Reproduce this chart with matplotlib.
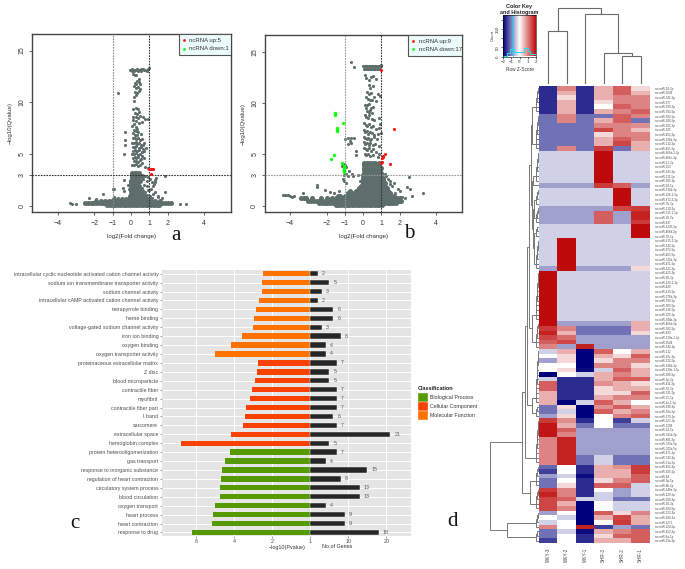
import matplotlib
matplotlib.use("Agg")
import matplotlib.pyplot as plt
import numpy as np
from matplotlib.colors import LinearSegmentedColormap
from matplotlib.patches import Rectangle

W, H = 685, 569
plt.rcParams["font.family"] = ["Liberation Sans", "DejaVu Sans"]

# ---- panel a, volcano: loose points
a_x = [-0.05,0.0,0.04,0.08,0.12,0.17,0.22,0.27,0.31,0.36,0.41,0.46,0.52,0.57,0.63,0.7,0.78,0.86,0.93,0.98,
       -0.7,0.2,0.3,0.12,0.35,0.42,0.45,0.48,0.2,0.3,0.15,0.25,0.4,0.5,0.45,0.22,0.32,0.18,0.15,0.28,
       0.12,0.3,0.4,0.45,0.2,0.35,0.5,0.1,0.25,0.4,0.65,0.95,0.75,0.1,0.3,0.6,0.45,0.18,0.08,0.27,0.35,0.15,0.25,0.1,0.4,0.55,-0.3,0.2,0.35,
       0.1,0.2,0.3,0.4,0.5,0.62,0.72,0.05,0.15,0.25,0.35,0.45,0.55,0.68,0.1,0.2,0.3,0.42,0.52,0.65,0.8,0.12,0.22,0.33,0.44,0.58,0.7,
       0.08,0.18,0.28,0.38,0.5,0.62,0.1,0.2,0.3,0.4,0.55,0.72,0.15,0.25,0.36,0.48,0.6,0.06,0.16,0.27,0.38,0.5,0.75,0.95,
       -0.3,-0.3,-0.4,1.85,1.35,1.33,1.3,1.28,1.2,1.12,1.02,0.95,0.85,0.75,0.65,0.55,0.48,0.9,0.7,0.6,0.95,1.1,1.3,1.2,
       -0.4,-1.0,-0.95,-0.45,-0.4,-0.1,-0.15,-0.05,1.0,1.5,1.85,1.7,1.45,-1.5,-0.9,-0.7,-2.3,-1.9,
       -3.3,-3.2,-3.0,2.7,3.0,0.75,0.6,0.9,0.5,0.8,1.05,0.65,1.15,0.55,0.45,0.7]
a_y = [13.1,13.15,13.05,13.2,13.1,13.05,13.15,13.1,13.2,13.05,13.15,13.1,13.2,13.05,13.2,13.1,13.15,13.05,13.2,13.3,
       10.9,12.6,12.6,12.7,12.1,12.2,12.0,11.8,11.9,11.8,11.6,11.4,11.5,11.3,11.1,11.0,10.9,10.5,10.1,10.7,
       9.3,9.4,9.3,9.1,9.0,8.9,8.7,8.6,8.6,8.5,8.6,8.4,8.4,8.3,8.2,8.1,8.0,7.9,7.7,7.6,7.4,7.3,7.2,7.0,7.1,6.9,7.1,6.8,6.8,
       6.5,6.5,6.4,6.5,6.3,6.4,6.1,6.1,6.1,6.2,6.0,6.1,5.9,5.9,5.7,5.7,5.8,5.6,5.7,5.5,5.6,5.3,5.4,5.3,5.4,5.2,5.3,
       5.0,5.0,5.1,4.9,5.0,4.8,4.6,4.7,4.6,4.7,4.5,4.6,4.3,4.3,4.2,4.4,4.1,3.9,3.9,4.0,3.8,3.9,3.7,3.6,
       6.3,5.9,5.0,2.9,2.7,2.5,2.3,2.1,1.9,2.3,2.6,2.8,2.4,2.9,2.6,2.9,2.5,1.9,2.0,1.7,1.5,1.6,1.3,1.1,
       2.5,1.6,1.6,1.7,1.4,1.6,2.0,2.4,1.5,0.9,1.3,0.7,0.8,1.1,0.8,0.7,0.7,0.6,
       0.25,0.2,0.15,0.2,0.2,1.3,1.2,1.0,1.5,0.7,0.9,0.9,0.7,1.1,1.3,0.6]
a_up_x = [1.0,1.08,1.15,1.2,1.1]
a_up_y = [3.5,3.5,3.5,3.5,3.05]

# panel a: solid part, one y level and the x values on it
a_levels = [0.08,0.22,0.4,0.65,0.9,1.15,1.4,1.65,1.9,2.15,2.4,2.65,2.9,3.15]
a_level_x = [
    [-1.3,-1.15,-1.0,-0.85,-0.7,-0.55,-0.4,-0.25,-0.1,0.05,0.2,0.35,0.5,0.65,0.8,0.95,1.1,1.25,1.4,1.55],
    [-2.5,-2.35,-2.2,-2.05,-1.9,-1.75,-1.6,-1.45,-1.3,-1.15,-1.0,-0.85,-0.7,-0.55,-0.4,-0.25,-0.1,0.05,0.2,0.35,0.5,0.65,0.8,0.95,1.1,1.25,1.4,1.55,1.7,1.85,2.0,2.18],
    [-1.9,-1.65,-1.4,-1.2,-1.05,-0.9,-0.75,-0.6,-0.45,-0.3,-0.15,0.0,0.12,0.24,0.36,0.5,0.65,0.8,0.95,1.1,1.3,1.6],
    [-0.9,-0.5,-0.25,-0.1,0.0,0.1,0.2,0.3,0.4,0.52,0.68,0.85,1.02],
    [-0.05,0.02,0.12,0.22,0.32,0.42,0.55,0.75],
    [0.0,0.1,0.2,0.3,0.4,0.58],
    [0.0,0.1,0.2,0.3,0.38,0.6],
    [0.0,0.1,0.2,0.3,0.4],
    [0.02,0.12,0.22,0.32,0.45],
    [0.02,0.12,0.22,0.32],
    [0.02,0.12,0.22,0.3,0.48],
    [0.04,0.14,0.24,0.36],
    [0.06,0.16,0.26,0.4,0.6],
    [0.08,0.2,0.3,0.42],
]

# ---- panel b, volcano: loose points
b_x = [-0.65,-0.5,0.0,0.08,0.16,0.24,0.32,0.4,0.48,0.56,0.64,0.72,0.8,0.88,0.96,0.04,0.12,0.2,0.28,0.36,0.44,0.52,0.6,0.68,0.76,0.84,0.92,0.98,
       0.1,0.18,0.3,0.42,0.55,0.7,0.3,0.4,0.55,0.2,0.35,0.45,0.6,0.8,0.95,0.15,0.25,0.38,0.5,0.7,0.2,0.3,0.42,0.55,
       0.08,0.14,0.22,0.3,0.38,0.5,0.1,0.18,0.26,0.34,0.48,0.62,0.85,0.95,0.06,0.14,0.22,0.3,0.42,0.55,0.7,0.88,
       0.05,0.12,0.2,0.28,0.36,0.48,0.6,0.8,0.98,0.05,0.12,0.2,0.28,0.36,0.46,0.6,0.75,0.05,0.12,0.2,0.3,0.4,0.52,0.68,0.9,
       0.06,0.14,0.24,0.34,0.44,0.56,0.72,0.85,0.08,0.18,0.28,0.4,0.55,0.8,
       -1.0,-0.85,-0.7,-0.65,-0.5,-0.65,-0.8,-0.4,-0.4,-1.0,-1.05,-0.95,-0.75,-0.6,-0.85,-1.1,-1.05,-0.95,-1.15,-0.55,-0.3,-0.15,
       -2.5,-2.5,-2.1,-1.8,-1.6,-1.3,-3.3,-4.4,-4.3,-4.2,-4.1,-4.0,-3.9,-3.8,-1.05,-0.95,
       1.25,1.35,1.2,1.45,1.5,1.6,1.7,1.9,2.0,2.4,2.5,2.55,2.7,3.3,2.15,2.3,1.75]
b_y = [14.0,13.5,13.6,13.6,13.6,13.6,13.6,13.6,13.6,13.6,13.6,13.6,13.6,13.6,13.6,13.3,13.3,13.3,13.3,13.3,13.3,13.3,13.3,13.3,13.3,13.3,13.3,13.7,
       12.7,12.4,12.2,12.5,12.6,12.3,11.8,11.5,11.7,11.1,10.9,11.0,10.6,10.9,10.7,10.6,10.4,10.3,10.3,10.2,9.8,9.9,9.5,9.6,
       9.8,9.5,9.2,9.1,9.3,9.0,8.8,8.6,8.5,8.8,8.4,8.3,8.5,8.0,8.1,7.9,7.8,8.0,7.7,7.8,7.5,7.6,
       7.4,7.2,7.3,7.0,7.2,7.1,6.9,7.0,7.1,6.7,6.6,6.5,6.6,6.4,6.5,6.7,6.5,6.2,6.0,6.1,5.9,6.1,5.9,6.0,5.8,
       5.6,5.5,5.4,5.6,5.3,5.5,5.2,5.0,5.0,4.9,5.0,4.8,4.9,4.7,
       6.5,6.6,6.3,6.55,6.55,6.1,6.0,5.3,4.9,4.0,3.0,3.1,3.4,3.1,2.9,2.6,2.4,2.2,3.9,2.9,3.0,2.4,
       2.0,1.8,1.5,1.3,1.2,1.4,1.2,1.05,1.05,1.0,1.0,0.95,0.85,0.9,4.1,3.8,
       2.9,2.6,3.1,2.4,2.1,1.9,2.2,1.6,1.4,1.8,2.8,1.6,0.9,1.2,0.8,0.7,1.2]
b_up_x = [1.0,1.7,1.2,1.07,1.05,1.1,1.0,1.5,1.05]
b_up_y = [13.2,7.45,5.05,4.7,4.6,4.85,4.2,4.1,4.25]
b_down_x = [-1.55,-1.55,-1.53,-1.1,-1.45,-1.45,-1.44,-1.6,-1.75,-1.15,-1.05,-1.05,-1.03,-1.03,-1.02,-1.04,-1.06]
b_down_y = [9.05,8.95,8.85,8.1,7.55,7.4,7.3,4.95,4.5,4.2,3.9,3.75,3.45,3.35,3.25,3.6,3.5]

b_levels = [0.08,0.28,0.5,0.72,0.95,1.2,1.45,1.7,1.95,2.2,2.45,2.7,2.95,3.2,3.45,3.7,3.95,4.2]
b_level_x = [
    [-1.5,-1.35,-1.2,-1.05,-0.9,-0.75,-0.6,-0.45,-0.3,-0.15,0.0,0.15,0.3,0.45,0.6,0.75,0.9,1.05],
    [-2.4,-2.25,-2.1,-1.95,-1.8,-1.65,-1.5,-1.35,-1.2,-1.05,-0.9,-0.75,-0.6,-0.45,-0.3,-0.15,0.0,0.15,0.3,0.45,0.6,0.75,0.9,1.05,1.2,1.35,1.5,1.65,1.8],
    [-3.0,-2.85,-2.7,-2.55,-2.4,-2.25,-2.1,-1.95,-1.8,-1.65,-1.5,-1.35,-1.2,-1.05,-0.9,-0.75,-0.6,-0.45,-0.3,-0.15,0.0,0.15,0.3,0.45,0.6,0.75,0.9,1.05,1.2,1.35,1.5,1.65,1.8,1.95,2.1],
    [-3.4,-3.25,-3.1,-2.8,-2.3,-2.0,-1.7,-1.5,-1.3,-1.15,-1.0,-0.85,-0.7,-0.55,-0.4,-0.25,-0.1,0.05,0.2,0.35,0.5,0.65,0.8,0.95,1.1,1.25,1.4,1.55,1.7,1.85,2.0],
    [-1.4,-1.25,-1.0,-0.85,-0.7,-0.55,-0.4,-0.25,-0.1,0.05,0.2,0.35,0.5,0.65,0.8,0.95,1.1,1.25,1.4,1.55,1.7],
    [-0.8,-0.6,-0.45,-0.3,-0.15,0.0,0.13,0.26,0.39,0.52,0.65,0.78,0.91,1.04,1.17,1.3,1.45],
    [-0.7,-0.4,-0.25,-0.1,0.03,0.16,0.29,0.42,0.55,0.68,0.81,0.94,1.07,1.2,1.35],
    [-0.25,-0.1,0.03,0.16,0.29,0.42,0.55,0.68,0.81,0.94,1.07,1.2,1.3],
    [-0.1,0.03,0.16,0.29,0.42,0.55,0.68,0.81,0.94,1.07,1.2],
    [-0.02,0.1,0.22,0.34,0.46,0.58,0.7,0.82,0.94,1.06,1.18],
    [0.0,0.12,0.24,0.36,0.48,0.6,0.72,0.84,0.96,1.08],
    [0.02,0.14,0.26,0.38,0.5,0.62,0.74,0.86,0.98,1.1],
    [0.02,0.14,0.26,0.38,0.5,0.62,0.74,0.86,0.98],
    [0.03,0.15,0.27,0.39,0.51,0.63,0.75,0.87,0.99],
    [0.04,0.16,0.28,0.4,0.52,0.64,0.78,0.92],
    [0.04,0.16,0.28,0.4,0.52,0.66,0.8,0.96],
    [0.05,0.17,0.3,0.44,0.58,0.72,0.9],
    [0.06,0.2,0.34,0.5,0.66,0.85],
]

# ---- panel c, enrichment bars
terms = ["intracellular cyclic nucleotide activated cation channel activity",
         "sodium ion transmembrane transporter activity", "sodium channel activity",
         "intracellular cAMP activated cation channel activity", "tetrapyrrole binding", "heme binding",
         "voltage-gated sodium channel activity", "iron ion binding", "oxygen binding",
         "oxygen transporter activity", "proteinaceous extracellular matrix", "Z disc", "blood microparticle",
         "contractile fiber", "myofibril", "contractile fiber part", "I band", "sarcomere", "extracellular space",
         "hemoglobin complex", "protein heterooligomerization", "gas transport", "response to inorganic substance",
         "regulation of heart contraction", "circulatory system process", "blood circulation", "oxygen transport",
         "heart process", "heart contraction", "response to drug"]
log_p = [2.47,2.54,2.56,2.68,2.86,2.98,3.04,3.6,4.18,5.0,2.74,2.82,2.91,3.07,3.19,3.4,3.44,3.53,4.16,6.82,
         4.21,4.49,4.65,4.7,4.75,4.77,5.0,5.12,5.16,6.24]
gene_counts = [2,5,3,2,6,6,3,8,4,4,7,5,5,7,7,7,6,7,21,5,7,4,15,8,13,13,4,9,9,18]
term_class = ["MF"]*10 + ["CC"]*10 + ["BP"]*10
class_names = ["Biological Process", "Cellular Component", "Molecular Function"]
class_colors = {"BP": "#559A00", "CC": "#F94100", "MF": "#FF7200"}

# ---- panel d, heatmap
columns = ["WKY-3", "WKY-2", "WKY-1", "SHR-3", "SHR-2", "SHR-1"]
z_rows = [
    [-1.65,1.0,-1.65,0.65,1.3,0.3],[-1.65,0.65,-1.65,0.65,1.3,0.6],[-1.65,0.3,-1.65,0.65,1.0,1.0],
    [-1.65,0.65,-1.65,0.3,1.0,1.0],[-1.65,0.65,-1.65,0.0,1.3,1.0],[-1.65,0.65,-1.65,0.65,1.0,1.3],
    [-1.1,1.0,-1.1,-1.1,1.3,1.0],[-1.1,1.0,-1.1,0.65,1.3,-1.1],[-1.1,-1.1,-1.1,1.0,1.0,0.9],
    [-1.1,-1.1,-1.1,1.5,1.0,0.5],[-1.1,-1.1,-1.1,0.3,1.0,1.0],[-1.1,-1.1,-1.1,0.65,1.3,1.0],
    [-1.1,-1.1,-1.1,0.65,1.5,0.65],[-1.1,1.0,-1.1,1.6,-1.1,0.65],
    [-0.37,-0.37,-0.37,2,-0.37,-0.37],[-0.37,-0.37,-0.37,2,-0.37,-0.37],[-0.37,-0.37,-0.37,2,-0.37,-0.37],
    [-0.37,-0.37,-0.37,2,-0.37,-0.37],[-0.37,-0.37,-0.37,2,-0.37,-0.37],[-0.37,-0.37,-0.37,2,-0.37,-0.37],
    [-0.37,-0.37,-0.37,2,-0.37,-0.37],[-0.75,-0.75,-0.75,1.6,1.3,-0.75],
    [-0.37,-0.37,-0.37,-0.37,2,-0.37],[-0.37,-0.37,-0.37,-0.37,2,-0.37],[-0.37,-0.37,-0.37,-0.37,2,-0.37],
    [-0.37,-0.37,-0.37,-0.37,2,-0.37],
    [-0.75,-0.75,-0.75,-0.75,1.5,1.6],[-0.75,-0.75,-0.75,1.3,-0.75,1.8],[-0.75,-0.75,-0.75,1.3,-0.75,1.8],
    [-0.75,-0.75,-0.75,1.3,-0.75,1.6],
    [-0.37,-0.37,-0.37,-0.37,-0.37,2],[-0.37,-0.37,-0.37,-0.37,-0.37,2],[-0.37,-0.37,-0.37,-0.37,-0.37,2],
    [-0.37,2,-0.37,-0.37,-0.37,-0.37],[-0.37,2,-0.37,-0.37,-0.37,-0.37],[-0.37,2,-0.37,-0.37,-0.37,-0.37],
    [-0.37,2,-0.37,-0.37,-0.37,-0.37],[-0.37,2,-0.37,-0.37,-0.37,-0.37],[-0.37,2,-0.37,-0.37,-0.37,-0.37],
    [-0.75,2,-0.75,-0.75,-0.75,0.3],
    [2,-0.37,-0.37,-0.37,-0.37,-0.37],[2,-0.37,-0.37,-0.37,-0.37,-0.37],[2,-0.37,-0.37,-0.37,-0.37,-0.37],
    [2,-0.37,-0.37,-0.37,-0.37,-0.37],[2,-0.37,-0.37,-0.37,-0.37,-0.37],[2,-0.37,-0.37,-0.37,-0.37,-0.37],
    [2,-0.37,-0.37,-0.37,-0.37,-0.37],[2,-0.37,-0.37,-0.37,-0.37,-0.37],[2,-0.37,-0.37,-0.37,-0.37,-0.37],
    [2,-0.37,-0.37,-0.37,-0.37,-0.37],[2,-0.37,-0.37,-0.37,-0.37,-0.37],
    [2,-0.75,-0.75,-0.75,-0.75,0.65],[1.6,1.0,-1.1,-1.1,-1.1,0.65],[1.8,0.6,-1.1,-1.1,-1.1,0.3],
    [1.5,1.2,-0.75,-0.75,-0.75,-0.75],[1.3,1.5,-0.75,-0.75,-0.75,-0.75],[1.0,-0.75,1.8,-0.75,-0.75,-0.75],
    [-0.37,0.65,-2,1.3,0.0,0.65],[0.0,0.3,-2,0.65,0.3,1.3],[-0.75,0.3,-2,0.3,1.0,1.0],
    [0.0,0.0,-2,1.0,1.0,0.3],[0.0,0.3,-1.9,-0.37,1.3,0.65],[-2,0.0,-0.37,0.65,1.0,0.65],
    [-0.37,-1.65,-1.65,0.65,1.3,1.3],[1.3,-1.65,-1.65,0.9,0.65,0.3],[1.3,-1.65,-1.65,0.3,0.65,0.65],
    [0.65,-1.65,-1.65,0.3,0.3,1.3],[0.65,-1.65,-1.65,0.65,1.0,1.0],[0.65,-2,-0.37,1.3,0.65,0.0],
    [-1.1,0.3,-2,0.9,1.3,0.65],[-1.1,-0.37,-2,1.3,0.65,1.0],[-0.75,0.3,-2,0.0,1.0,1.3],
    [1.6,0.9,-1.65,0.0,-1.5,-0.37],[1.9,0.65,-1.1,0.0,-1.1,-1.1],[1.9,1.3,-0.75,-0.75,-0.75,-0.75],
    [1.9,1.0,-0.75,-0.75,-0.75,-0.75],[1.0,1.8,-0.75,-0.75,-0.75,-0.75],[1.0,1.8,-0.75,-0.75,-0.75,-0.75],
    [1.0,1.8,-0.75,-0.75,-0.75,-0.75],[1.0,1.8,-0.75,-0.75,-0.75,-0.75],[1.0,1.8,-1.1,-0.37,-1.1,-1.1],
    [1.0,1.8,-1.1,-0.37,-1.1,-1.1],[-1.2,0.0,-1.65,0.65,0.9,1.6],[-1.5,0.0,-1.65,0.65,0.65,1.6],
    [-0.75,-0.37,-1.9,0.65,0.65,1.3],[-1.1,0.0,-1.65,0.3,1.0,1.3],[-1.1,0.3,-1.65,1.3,1.3,-0.37],
    [1.6,1.0,-1.65,0.0,-0.75,-0.37],[1.8,1.0,-1.65,-0.37,-0.75,-0.37],[1.5,1.3,-0.37,-0.37,-1.1,-1.1],
    [1.5,0.65,-2,0.0,-0.37,-0.37],[1.5,1.0,-2,0.0,-0.37,-0.37],[-0.75,0.0,-2,1.3,0.3,1.0],
    [0.0,-0.37,-2,0.65,1.5,0.65],[-0.37,0.0,-2,0.0,1.6,0.65],[1.0,0.0,1.8,-1.5,-0.75,-1.1],
    [-1.1,-0.37,-1.9,0.65,1.0,1.3],[-1.1,0.0,-1.65,0.3,1.3,1.3],[-1.5,0.0,-1.65,0.65,0.65,1.3],
]
row_names = ["18-3p","3542","541-5p","377","599-3p","592-5p","582-5p","280-5p","355-3p","325","452-3p","338a-3p","212-3p",
             "451-5p","466b-2-3p","466c-3p","21-3p","153","143-3p","211-5p","205-3p","99-5p","138b-3p","126-1-5p",
             "672-2-3p","7b-3p","210-5p","515-1-5p","18-7p","637","1247-5p","466d-3p","59-5p","615-2-3p","542-5p",
             "872-5p","463-5p","743a-3p","471-5p","122-3p","425-3p","98-3p","129-2-3p","429","410-5p","378b-3p",
             "590-5p","383-5p","136-5p","325-5p","344a-3p","466b-5p","382-5p","493","219a-2-3p","3549","542-3p",
             "212","29c-3p","132-5p","540b-3p","219a-1-5p","380-5p","3p-3p","411-3p","50-3p","331-5p","22-5p",
             "1e-1-5p","338-3p","59a-5p","370-3p","127-3p","1298","24-5p","743b-3p","881-3p","743a-5p","743b-5p",
             "471-3p","743-3p","31a-5p","652-3p","335-5p","84","3p-5p","8b-3p","148a-3p","129-5p","300-3p",
             "30-3p","204-5p","223-3p","208-3a","1271","224-5p","423-3p","6a-5p","23a-3p"]
# nested clusters as (height, child, child, ...); a plain number is that many neighbouring rows
row_tree = (49,
            (17,
             (14,
              (12,
               (10,
                (8,
                 (7, (4, 6), (5, 8)),
                 (7, (6, (3, 7), 1), (6, (5, 4, 4), (5, (3, 3), (4, 7))))),
                (7, (3, 11), (5, 6))),
               (7, (5, 12), (3, 3))),
              (6, 10)),
             (9, (4, 5), (4, 5))),
            (32, (14, 4), (6, 3)))
col_tree = (76, (53, 1, 1), (70, 1, (31, 1, (28, 1, 1))))

# colour key histogram
key_bins = [-2.0,-1.75,-1.5,-1.3,-1.1,-0.9,-0.7,-0.5,-0.3,-0.1,0.2,0.5,0.8,1.0,1.3,1.6,2.0]
key_counts = [4,4,20,20,40,40,24,24,24,24,24,45,45,30,14,14,32]
key_ticks = [-2, -1, 0, 1, 2]


def px_axes(left, top, right, bottom):
    return fig.add_axes([left / W, 1 - bottom / H, (right - left) / W, (bottom - top) / H])


def flatten(xs, levels):
    out_x, out_y = [], []
    for y, row in zip(levels, xs):
        out_x += row
        out_y += [y] * len(row)
    return out_x, out_y


def volcano(box, xlim, ylim, loose, solid, up, down, legend_box, labels, rule_cols):
    ax = px_axes(*box)
    ax.set_xlim(*xlim)
    ax.set_ylim(*ylim)
    ax.scatter(loose[0], loose[1], s=5, color="#5E6E6B", linewidths=0, zorder=2)
    ax.scatter(solid[0], solid[1], s=13, color="#5E6E6B", linewidths=0, zorder=2)
    ax.axvline(-1, color=rule_cols[0], ls=(0, (1.5, 1)), lw=0.8, zorder=3)
    ax.axvline(1, color=rule_cols[1], ls=(0, (1.5, 1)), lw=0.8, zorder=3)
    ax.axhline(3, color=rule_cols[2], ls=(0, (1.5, 1)), lw=0.8, zorder=3)
    ax.scatter(up[0], up[1], s=5, color="#FF1010", linewidths=0, zorder=4)
    if down:
        ax.scatter(down[0], down[1], s=6, color="#10FF10", linewidths=0, zorder=4)
    ax.set_xticks([-4, -2, -1, 0, 1, 2, 4])
    ax.set_yticks([0, 3, 5, 10, 15])
    ax.tick_params(labelsize=5, length=2.5, width=0.6, color="#444444", labelcolor="#333333", pad=3)
    ax.tick_params(axis="y", pad=2)
    plt.setp(ax.get_yticklabels(), rotation=90, va="center")
    ax.set_xlabel("log2(Fold change)", fontsize=4.4, color="#333333", labelpad=5)
    ax.set_ylabel("\u2212log10(Qvalue)", fontsize=4.4, color="#333333", labelpad=4)
    for s in ax.spines.values():
        s.set_color("#444444")
        s.set_linewidth(1)
    # legend box sits in the corner
    lx0, ly0, lx1, ly1 = legend_box
    t = ax.transAxes.inverted()
    (ax0, ay0), (ax1, ay1) = t.transform([(lx0, H - ly1), (lx1, H - ly0)])
    ax.add_patch(Rectangle((ax0, ay0), ax1 - ax0, ay1 - ay0, transform=ax.transAxes, fc="#ECFBFB",
                           ec="#555555", lw=0.8, zorder=5))
    for k, (lab, col) in enumerate(zip(labels, ["#FF1010", "#10FF10"])):
        yy = ay1 - (ay1 - ay0) * (0.3 + 0.4 * k)
        xx = ax0 + (ax1 - ax0) * 0.09
        ax.scatter([xx], [yy], s=4, color=col, transform=ax.transAxes, linewidths=0, zorder=6)
        ax.text(xx + (ax1 - ax0) * 0.11, yy, lab, transform=ax.transAxes, fontsize=4.3, va="center",
                color="#333333", zorder=6, clip_on=True)
    return ax


def draw_tree(ax, node, start, vertical, col, comb_h=3.0):
    # returns (centre, height, next free leaf)
    if isinstance(node, int):
        pos, h = start + 0.5, 0.0
        for i in range(1, node):
            nh = comb_h * i / max(node - 1, 1)
            link(ax, pos, h, start + i + 0.5, 0.0, nh, vertical, col)
            pos, h = (pos + start + i + 0.5) / 2, nh
        return pos, h, start + node
    parts = []
    nxt = start
    for child in node[1:]:
        p, h, nxt = draw_tree(ax, child, nxt, vertical, col, comb_h)
        parts.append((p, h))
    (p0, h0), (p1, h1) = parts[0], parts[-1]
    link(ax, p0, h0, p1, h1, node[0], vertical, col)
    return (p0 + p1) / 2, node[0], nxt


def link(ax, p0, h0, p1, h1, top, vertical, col):
    if vertical:
        ax.plot([p0, p0, p1, p1], [h0, top, top, h1], color=col, lw=0.8, solid_joinstyle="miter")
    else:
        ax.plot([h0, top, top, h1], [p0, p0, p1, p1], color=col, lw=0.7, solid_joinstyle="miter")


fig = plt.figure(figsize=(W / 100, H / 100), dpi=100)

# panel a, b
volcano((32, 34, 230.5, 212), (-5.4, 5.43), (-0.62, 16.6), (a_x, a_y), flatten(a_level_x, a_levels),
        (a_up_x, a_up_y), None, (179, 34, 230.5, 55), ["ncRNA up:5", "ncRNA down:1"],
        ("#888888", "#333333", "#333333"))
volcano((264.5, 35.3, 462, 212), (-5.4, 5.42), (-0.62, 16.6), (b_x, b_y), flatten(b_level_x, b_levels),
        (b_up_x, b_up_y), (b_down_x, b_down_y), (408, 35.3, 462, 55.5), ["ncRNA up:9", "ncRNA down:17"],
        ("#999999", "#333333", "#999999"))

# panel c
ax_c = px_axes(162, 270, 410.7, 536)
ax_c.set_facecolor("#E5E5E5")
ypos = np.arange(len(terms))
ax_c.set_xlim(-7.81, 5.28)
ax_c.set_ylim(29.4, -0.415)
ax_c.grid(True, color="white", lw=0.7)
ax_c.set_axisbelow(True)
ax_c.barh(ypos, [-v for v in log_p], height=0.6, color=[class_colors[c] for c in term_class], zorder=3)
# gene counts are drawn on a fifth of their value, right of the centre line
gene_x = [g * 0.2 for g in gene_counts]
ax_c.barh(ypos, gene_x, height=0.6, color="#262626", edgecolor="white", lw=0.3, zorder=3)
for y, gx, g in zip(ypos, gene_x, gene_counts):
    ax_c.text(gx + 0.22, y, str(g), fontsize=3.8, color="#555555", va="center", ha="left", zorder=4)
ax_c.set_yticks(ypos)
ax_c.set_yticklabels(terms, fontsize=3.75, color="#4D4D4D")
ax_c.set_xticks([-6, -4, -2, 0, 2, 4])
ax_c.set_xticklabels(["6", "4", "2", "1", "10", "20"], fontsize=3.9, color="#4D4D4D")
ax_c.tick_params(axis="y", length=1.5, width=0.4, color="#555555", pad=1.2)
ax_c.tick_params(axis="x", length=1.2, width=0.4, color="#555555", pad=1)
for s in ax_c.spines.values():
    s.set_visible(False)
fig.text(287 / W, 1 - 547 / H, "\u2212log10(Pvalue)", fontsize=3.9, ha="center", va="center", color="#333333")
fig.text(337 / W, 1 - 547 / H, "No.of Genes", fontsize=3.9, ha="center", va="center", color="#333333")

# classification legend
fig.text(418 / W, 1 - 388 / H, "Classification", fontsize=4, fontweight="bold", va="center", color="#222222")
for k, (name, code) in enumerate(zip(class_names, ["BP", "CC", "MF"])):
    top = 393 + 9.1 * k
    fig.add_artist(Rectangle((418 / W, 1 - (top + 9.1) / H), 10 / W, 9.1 / H, transform=fig.transFigure,
                             fc=class_colors[code], ec="#F2F2F2", lw=0.3))
    fig.text(429.5 / W, 1 - (top + 4.5) / H, name, fontsize=3.8, va="center", color="#333333")

# panel d
cmap = LinearSegmentedColormap.from_list("navy_red", ["#00007A", "#FFFFFF", "#BE0A0A"])
z = np.array(z_rows)
n_rows = len(z_rows)
ax_h = px_axes(539, 86, 650, 543)
ax_h.imshow(z, cmap=cmap, vmin=-2, vmax=2, aspect="auto", interpolation="nearest", extent=(0, 6, n_rows, 0))
ax_h.set_xticks(np.arange(6) + 0.5)
ax_h.set_xticklabels(columns, rotation=90, fontsize=3.3, color="#444444")
ax_h.yaxis.tick_right()
ax_h.set_yticks(np.arange(n_rows) + 0.5)
ax_h.set_yticklabels(["rno-miR-" + r for r in row_names], fontsize=2.1, color="#444444")
ax_h.tick_params(length=0, pad=3.5)
for s in ax_h.spines.values():
    s.set_visible(False)

ax_rd = px_axes(490, 86, 538.5, 543)
ax_rd.set_xlim(49, 0)
ax_rd.set_ylim(n_rows, 0)
draw_tree(ax_rd, row_tree, 0, False, "#777777")
ax_rd.axis("off")

ax_cd = px_axes(539, 4, 650, 84)
ax_cd.set_xlim(0, 6)
ax_cd.set_ylim(0, 80)
draw_tree(ax_cd, col_tree, 0, True, "#6A6A6A")
ax_cd.axis("off")

# colour key
ax_k = px_axes(503, 15, 536, 56.5)
grad = np.linspace(-2, 2, 128).reshape(1, -1)
ax_k.imshow(grad, cmap=cmap, vmin=-2, vmax=2, aspect="auto", extent=(-2, 2, 0, 227))
ax_k.step(key_bins, key_counts, where="post", color="#22DDEE", lw=0.7)
ax_k.axvline(-0.75, color="#22DDEE", lw=0.7)
ax_k.set_xlim(-2, 2)
ax_k.set_ylim(0, 227)
ax_k.set_xticks(key_ticks)
ax_k.set_xticklabels([str(t).replace("-", "\u2212") for t in key_ticks], fontsize=3.2, color="#333333")
ax_k.set_yticks([0, 50, 100, 150, 200])
ax_k.set_yticklabels(["0", "50", "", "150", ""], rotation=90, va="center", fontsize=3.2, color="#333333")
ax_k.tick_params(length=1.5, width=0.4, pad=1)
ax_k.set_xlabel("Row Z-Score", fontsize=3.4, labelpad=2, color="#333333")
ax_k.set_ylabel("Count", fontsize=3, labelpad=0.5, color="#333333")
ax_k.set_title("Color Key\nand Histogram", fontsize=4, fontweight="bold", pad=1, color="#222222", linespacing=1.2)
for s in ax_k.spines.values():
    s.set_linewidth(0.4)

# panel letters
for letter, lx, ly in [("a", 176, 235), ("b", 409, 233), ("c", 75, 523), ("d", 453, 522)]:
    fig.text(lx / W, 1 - ly / H, letter, fontsize=15, family="Liberation Serif", ha="center", va="center",
             color="#111111")

fig.savefig("out.png", dpi=100)
